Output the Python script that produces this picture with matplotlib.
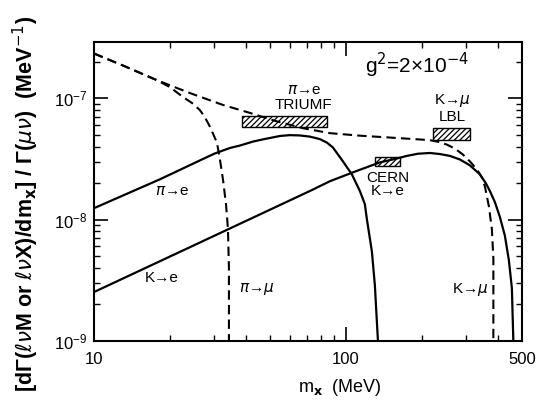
import matplotlib
matplotlib.use('Agg')
import matplotlib.pyplot as plt
from matplotlib.patches import Rectangle
from matplotlib.ticker import FixedLocator, FixedFormatter, LogLocator, NullFormatter

plt.rcParams['font.family'] = ['Liberation Sans', 'DejaVu Sans']
plt.rcParams['mathtext.fontset'] = 'dejavusans'
plt.rcParams['hatch.linewidth'] = 0.9

# curves: m_x (MeV) and rate (MeV^-1)
pie_m = [10, 18.3, 26.3, 30.2, 34.6, 38.0, 42.8, 47.7, 54.7, 60.0, 65.7, 72.0, 78.8, 84.1, 88.8,
         97.3, 105.6, 113.6, 118.9, 121.1, 126.8, 130.3, 134.0]
pie_v = [1.24e-8, 2.15e-8, 3.07e-8, 3.51e-8, 3.89e-8, 4.08e-8, 4.40e-8, 4.62e-8, 4.89e-8, 4.97e-8,
         4.94e-8, 4.83e-8, 4.61e-8, 4.31e-8, 3.93e-8, 3.02e-8, 2.36e-8, 1.72e-8, 1.34e-8, 1.01e-8,
         5.45e-9, 2.87e-9, 1.0e-9]

ke_m = [10, 26.3, 72.0, 86.4, 106.6, 136.4, 156.5, 174.6, 193.1, 215.4, 236.0, 258.6, 283.4, 310.5,
        340.2, 359.4, 372.8, 390.4, 408.5, 427.6, 443.6, 455.8, 462.0]
ke_v = [2.52e-9, 6.45e-9, 1.72e-8, 2.07e-8, 2.45e-8, 2.96e-8, 3.16e-8, 3.35e-8, 3.49e-8, 3.54e-8,
        3.47e-8, 3.35e-8, 3.13e-8, 2.80e-8, 2.36e-8, 1.99e-8, 1.72e-8, 1.39e-8, 1.05e-8, 7.36e-9,
        4.60e-9, 2.72e-9, 1.0e-9]

pimu_m = [10, 13.27, 17.78, 20.03, 22.56, 24.5, 26.3, 27.57, 28.86, 30.77, 31.62, 32.5, 33.42,
          34.02, 34.33, 34.33]
pimu_v = [2.345e-7, 1.836e-7, 1.411e-7, 1.237e-7, 1.025e-7, 9.15e-8, 8.02e-8, 6.97e-8, 5.83e-8,
          4.31e-8, 3.13e-8, 2.15e-8, 1.34e-8, 8.39e-9, 3.96e-9, 1.0e-9]

kmu_m = [10, 13.27, 17.78, 24.04, 32.5, 41.6, 52.3, 67.5, 86.4, 113.6, 163.8, 215.4, 236.0, 251.7,
         270.7, 291.2, 310.5, 331.1, 346.5, 356.1, 369.3, 379.6, 384.9, 384.9]
kmu_v = [2.345e-7, 1.836e-7, 1.411e-7, 1.105e-7, 8.82e-8, 7.58e-8, 6.52e-8, 5.67e-8, 5.16e-8,
         4.92e-8, 4.69e-8, 4.52e-8, 4.35e-8, 4.15e-8, 3.85e-8, 3.44e-8, 3.02e-8, 2.59e-8, 2.23e-8,
         1.88e-8, 1.29e-8, 8.39e-9, 4.77e-9, 1.0e-9]

# experimental limits (hatched boxes): m range, rate range
triumf_m = [38.7, 84.0]
triumf_v = [5.83e-8, 7.17e-8]
lbl_m = [221, 310]
lbl_v = [4.56e-8, 5.72e-8]
cern_m = [130, 164]
cern_v = [2.75e-8, 3.25e-8]

fig = plt.figure(figsize=(5.49, 4.08), dpi=100)
ax = fig.add_axes([0.1712, 0.165, 0.7796, 0.7313])

dash = (0, (4.5, 2.5))
ax.plot(pie_m, pie_v, color='black', lw=1.6)
ax.plot(ke_m, ke_v, color='black', lw=1.6)
ax.plot(pimu_m, pimu_v, color='black', lw=1.5, ls=dash)
ax.plot(kmu_m, kmu_v, color='black', lw=1.5, ls=dash)

for bm, bv in [(triumf_m, triumf_v), (lbl_m, lbl_v), (cern_m, cern_v)]:
    ax.add_patch(Rectangle((bm[0], bv[0]), bm[1] - bm[0], bv[1] - bv[0],
                           fill=False, hatch='//////', edgecolor='black', lw=1.0))

ax.set_xscale('log')
ax.set_yscale('log')
ax.set_xlim(10, 500)
ax.set_ylim(1e-9, 2.9e-7)

ax.xaxis.set_major_locator(FixedLocator([10, 100, 500]))
ax.xaxis.set_major_formatter(FixedFormatter(['10', '100', '500']))
ax.xaxis.set_minor_locator(FixedLocator([20, 30, 40, 50, 60, 70, 80, 90, 200, 300, 400]))
ax.xaxis.set_minor_formatter(NullFormatter())
ax.yaxis.set_major_locator(LogLocator(base=10))
ax.yaxis.set_minor_locator(LogLocator(base=10, subs=range(2, 10)))
ax.yaxis.set_minor_formatter(NullFormatter())

ax.tick_params(which='both', direction='in', top=True, right=True)
ax.tick_params(which='major', length=10, width=1.2, labelsize=12)
ax.tick_params(which='minor', length=4.5, width=1.0)
ax.tick_params(axis='x', which='major', pad=8)
ax.tick_params(axis='y', which='major', pad=5)
for s in ax.spines.values():
    s.set_linewidth(1.5)

# annotations
ax.text(119, 1.87e-7, r'g$^2$=2×10$^{-4}$', fontsize=15, ha='left', va='center')
ax.text(68.1, 1.015e-7, '$\\pi$→e\nTRIUMF', fontsize=11, ha='center', va='center', linespacing=1.15)
ax.text(263.4, 8.33e-8, 'K→$\\mu$\nLBL', fontsize=11, ha='center', va='center', linespacing=1.15)
ax.text(146.8, 1.94e-8, 'CERN\nK→e', fontsize=11, ha='center', va='center', linespacing=0.95)
ax.text(20.4, 1.72e-8, '$\\pi$→e', fontsize=11, ha='center', va='center')
ax.text(18.6, 3.29e-9, 'K→e', fontsize=11, ha='center', va='center')
ax.text(44.4, 2.66e-9, '$\\pi$→$\\mu$', fontsize=11, ha='center', va='center')
ax.text(310.5, 2.62e-9, 'K→$\\mu$', fontsize=11, ha='center', va='center')

fig.text(340 / 549, 1 - 388 / 408, 'm$_\\mathbf{x}$  (MeV)', fontsize=13, ha='center', va='center')
fig.text(26 / 549, 1 - 204 / 408,
         '[dΓ($\\ell\\nu$M or $\\ell\\nu$X)/dm$_\\mathbf{x}$] / Γ($\\mu\\nu$)  (MeV$^{-1}$)',
         fontsize=15.5, fontweight='bold', rotation=90, ha='center', va='center')

fig.savefig('out.png', dpi=100)
